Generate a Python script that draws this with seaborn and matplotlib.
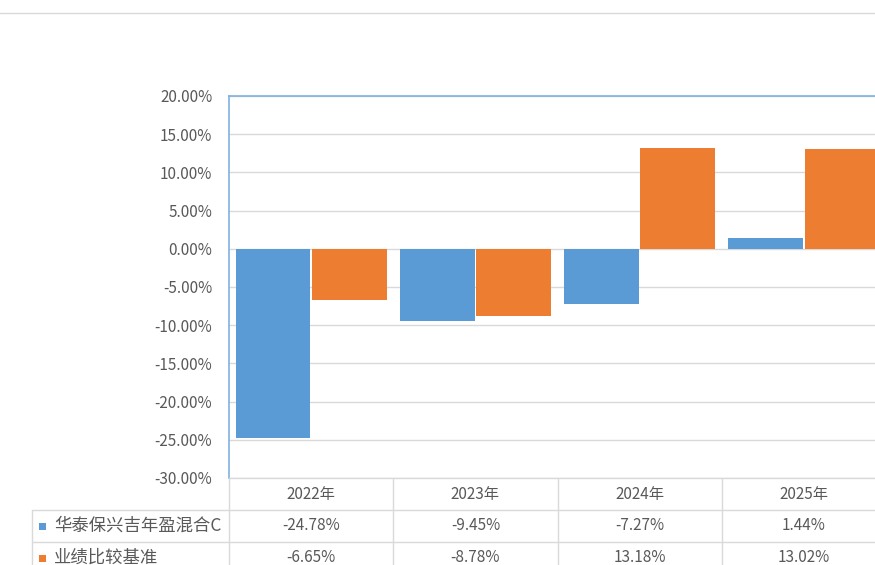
import pandas as pd
import seaborn as sns
import matplotlib.pyplot as plt
from matplotlib.lines import Line2D
from matplotlib.patches import Rectangle

# data
years = ['2022年', '2023年', '2024年', '2025年']
fund = [-24.78, -9.45, -7.27, 1.44]
bench = [-6.65, -8.78, 13.18, 13.02]
names = ['华泰保兴吉年盈混合C', '业绩比较基准']
yticks = [-30, -25, -20, -15, -10, -5, 0, 5, 10, 15, 20]

blue = '#5B9BD5'
orange = '#ED7D31'
grid = '#D9D9D9'
txt = '#595959'

df = pd.DataFrame({
    'year': years * 2,
    'value': fund + bench,
    'series': [names[0]] * len(years) + [names[1]] * len(years),
})

sns.set_theme(style='white')
plt.rcParams['font.family'] = ['Noto Sans CJK SC', 'DejaVu Sans']

W, H = 875, 565
fig = plt.figure(figsize=(W / 100, H / 100), dpi=100)

def fx(x):
    return x / W

def fy(y):
    return 1 - y / H

# plot area runs off the right edge like in the screenshot
left, top, bottom, right = 229, 96, 478, 886
ax = fig.add_axes([fx(left), fy(bottom), fx(right - left), (bottom - top) / H])

sns.barplot(data=df, x='year', y='value', hue='series', palette=[blue, orange],
            saturation=1, width=0.93, gap=0.02, legend=False, ax=ax, linewidth=0)

ax.set_ylim(-30, 20)
ax.set_xlim(-0.5, len(years) - 0.5)
ax.set_yticks(yticks)
ax.set_yticklabels([f'{v:.2f}%' for v in yticks], color=txt, fontsize=11)
ax.set_xticks([])
ax.set_xlabel('')
ax.set_ylabel('')
ax.tick_params(axis='y', length=0, pad=12)
ax.yaxis.grid(True, color=grid, linewidth=1)
ax.set_axisbelow(True)
ax.spines['right'].set_visible(False)
ax.spines['bottom'].set_color(grid)
ax.spines['bottom'].set_linewidth(1)
for s in ['left', 'top']:
    ax.spines[s].set_color('#7FB1E0')
    ax.spines[s].set_linewidth(1.2)

# chart border line at the very top
fig.add_artist(Line2D([0, 1], [fy(13), fy(13)], color=grid, linewidth=1))

# data table under the plot
row_h = 32
col_w = (right - left) / len(years)
tleft = 32
r1, r2 = bottom + row_h, bottom + 2 * row_h

def hline(y, x0, x1):
    fig.add_artist(Line2D([fx(x0), fx(x1)], [fy(y), fy(y)], color=grid, linewidth=1))

def vline(x, y0, y1):
    fig.add_artist(Line2D([fx(x), fx(x)], [fy(y0), fy(y1)], color=grid, linewidth=1))

hline(r1, tleft, W)
hline(r2, tleft, W)
vline(tleft, r1, H)
for i in range(len(years) + 1):
    vline(left + i * col_w, bottom, H)

rows = [fund, bench]
colors = [blue, orange]
for i, yr in enumerate(years):
    cx = left + (i + 0.5) * col_w
    fig.text(fx(cx), fy(bottom + row_h / 2), yr, ha='center', va='center',
             color=txt, fontsize=11)
    for j, vals in enumerate(rows):
        fig.text(fx(cx), fy(bottom + (j + 1.5) * row_h), f'{vals[i]:.2f}%',
                 ha='center', va='center', color=txt, fontsize=11)

for j, nm in enumerate(names):
    cy = bottom + (j + 1.5) * row_h
    fig.add_artist(Rectangle((fx(39), fy(cy + 3.5)), fx(7), 7 / H,
                             facecolor=colors[j], edgecolor='none'))
    fig.text(fx(54), fy(cy), nm, ha='left', va='center', color=txt, fontsize=12.5)

fig.savefig('out.png', dpi=100)
